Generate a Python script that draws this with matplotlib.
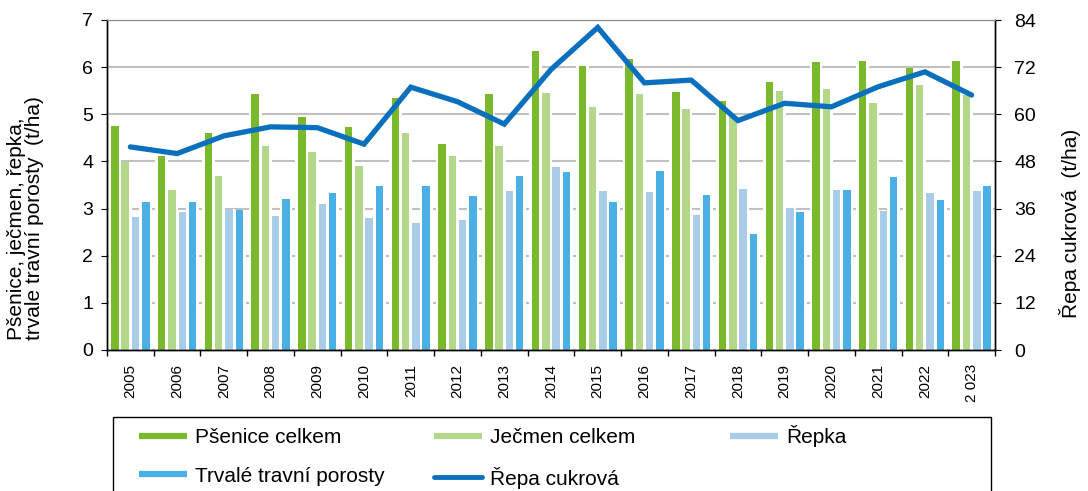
import numpy as np
import matplotlib
matplotlib.use("Agg")
from matplotlib import pyplot as plt
from matplotlib.lines import Line2D
from matplotlib.patches import Rectangle

plt.rcParams['font.family'] = ['Liberation Sans', 'DejaVu Sans']

years = ["2005", "2006", "2007", "2008", "2009", "2010", "2011", "2012", "2013", "2014",
         "2015", "2016", "2017", "2018", "2019", "2020", "2021", "2022", "2 023"]
psenice = [4.75, 4.12, 4.61, 5.44, 4.94, 4.74, 5.35, 4.37, 5.42, 6.34,
           6.02, 6.18, 5.47, 5.28, 5.69, 6.11, 6.12, 5.98, 6.13]
jecmen = [3.98, 3.40, 3.70, 4.33, 4.20, 3.90, 4.60, 4.12, 4.32, 5.45,
          5.15, 5.43, 5.11, 4.95, 5.49, 5.54, 5.23, 5.62, 5.41]
repka = [2.82, 2.93, 2.99, 2.84, 3.10, 2.79, 2.69, 2.76, 3.37, 3.88,
         3.37, 3.35, 2.86, 3.41, 3.02, 3.39, 2.95, 3.33, 3.38]
porosty = [3.14, 3.15, 2.98, 3.20, 3.34, 3.47, 3.47, 3.26, 3.70, 3.78,
           3.15, 3.79, 3.28, 2.46, 2.93, 3.39, 3.67, 3.19, 3.48]
repa_cukrova = [51.7, 50.0, 54.5, 56.8, 56.6, 52.4, 66.9, 63.2, 57.5, 71.4,
                82.1, 68.0, 68.7, 58.4, 62.8, 61.9, 67.0, 70.8, 64.9]

bar_series = [("Pšenice celkem", psenice, "#7ab82c"),
              ("Ječmen celkem", jecmen, "#b3d88a"),
              ("Řepka", repka, "#a9cde9"),
              ("Trvalé travní porosty", porosty, "#4aafe5")]
line_color = "#0a70bd"

fig = plt.figure(figsize=(10.88, 4.91), dpi=100)
ax = fig.add_axes([107/1088, 1-350/491, 888/1088, 330/491])
ax2 = ax.twinx()

x = np.arange(len(years))
pitch = 0.22
for i, (name, vals, col) in enumerate(bar_series):
    pos = x + (i - 1.5)*pitch
    # white border around each bar (hides the gridlines next to it)
    ax.bar(pos, vals, width=0.274, color="white", linewidth=0, zorder=1.5)
    ax.bar(pos, vals, width=0.16, color=col, linewidth=0, zorder=2)

ax2.plot(x, repa_cukrova, color=line_color, lw=3.8, solid_capstyle="round",
         solid_joinstyle="miter", zorder=3)

ax.set_xlim(-0.5, len(years)-0.5)
ax.set_ylim(0, 7)
ax2.set_ylim(0, 84)
ax.set_yticks(range(0, 8))
ax2.set_yticks(range(0, 85, 12))
ax.yaxis.grid(True, color="#c0c0c0", lw=1.5)
ax.set_axisbelow(True)

ax.set_xticks(x)
ax.set_xticklabels(years, rotation=90, fontsize=11)
ax.set_xticks(np.arange(-0.5, len(years)), minor=True)
ax.tick_params(axis="x", which="major", length=0, pad=10)
ax.tick_params(axis="x", which="minor", length=4, width=1, direction="out")
ax.tick_params(axis="y", labelsize=14, length=4, direction="out", pad=6)
ax2.tick_params(axis="y", labelsize=14, length=4, direction="out", pad=10)

for a in (ax, ax2):
    for s in ("left", "right", "bottom"):
        a.spines[s].set_color("black")
        a.spines[s].set_linewidth(1)
    a.spines["top"].set_color("#888888")

ax.set_ylabel("Pšenice, ječmen, řepka,\ntrvale travní porosty  (t/ha)",
              fontsize=15, multialignment="left", linespacing=0.95)
ax.yaxis.set_label_coords(-0.0709, 0.40)
ax2.set_ylabel("Řepa cukrová  (t/ha)", fontsize=15)
ax2.yaxis.set_label_coords(1.072, 0.385)

# legend, filled column by column
h = {}
for name, vals, col in bar_series:
    h[name] = Line2D([], [], color=col, lw=4.5, solid_capstyle="butt")
h["Řepa cukrová"] = Line2D([], [], color=line_color, lw=3.5, solid_capstyle="round")
order = ["Pšenice celkem", "Trvalé travní porosty", "Ječmen celkem", "Řepa cukrová", "Řepka"]
labels = [n + ("        " if n == "Ječmen celkem" else "") for n in order]
fig.legend([h[n] for n in order], labels, loc="upper left",
           bbox_to_anchor=(139/1088, 1-425/491), ncol=3, frameon=False,
           fontsize=15, handlelength=2.3, handletextpad=0.4,
           columnspacing=2.35, labelspacing=0.95, borderpad=0, borderaxespad=0)
fig.patches.append(Rectangle((113/1088, -0.1), (991-113)/1088, 0.1 + (491-417)/491,
                             transform=fig.transFigure, fill=False,
                             edgecolor="black", lw=1))

fig.savefig("out.png", dpi=100)
